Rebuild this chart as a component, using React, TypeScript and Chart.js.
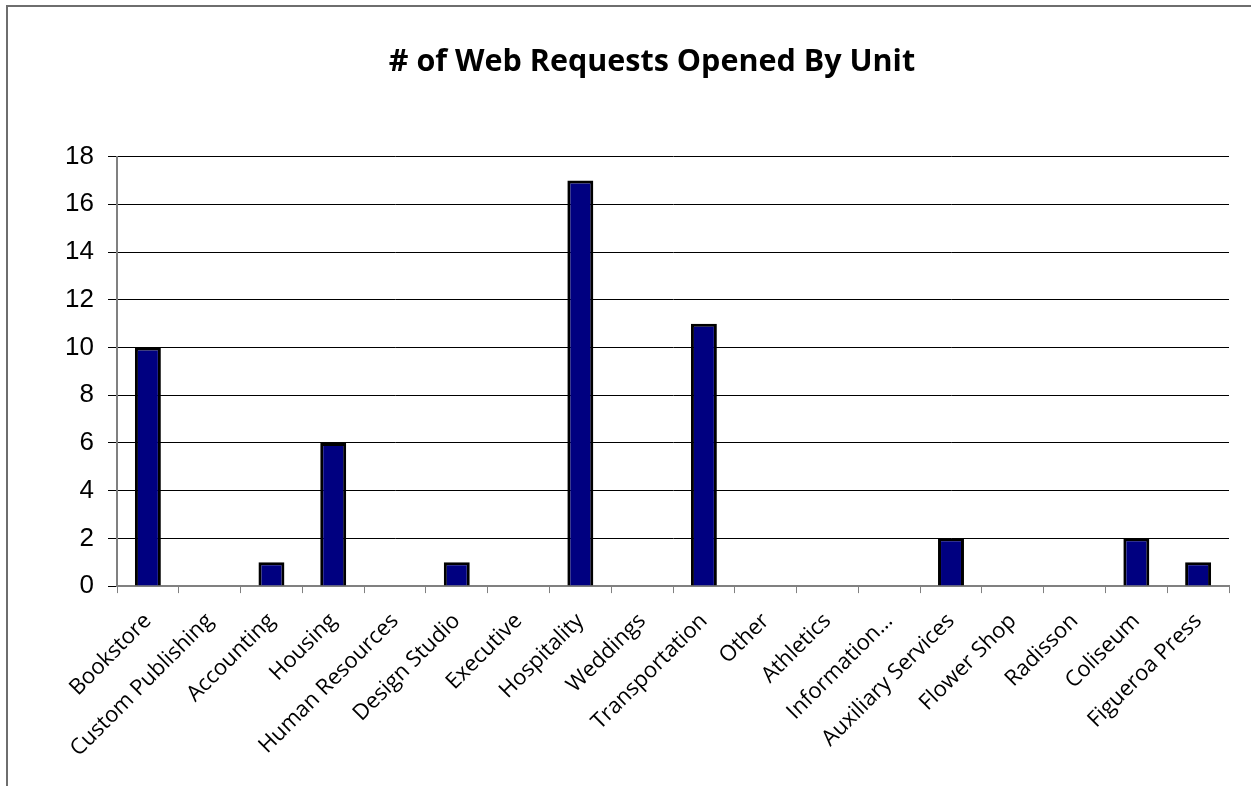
import React, { useEffect, useRef } from "react";
import { Chart, registerables } from "chart.js";

Chart.register(...registerables);

const categories = [
  "Bookstore",
  "Custom Publishing",
  "Accounting",
  "Housing",
  "Human Resources",
  "Design Studio",
  "Executive",
  "Hospitality",
  "Weddings",
  "Transportation",
  "Other",
  "Athletics",
  "Information…",
  "Auxiliary Services",
  "Flower Shop",
  "Radisson",
  "Coliseum",
  "Figueroa Press",
];
const requests = [10, 0, 1, 6, 0, 1, 0, 17, 0, 11, 0, 0, 0, 2, 0, 0, 2, 1];
const yTicks = [0, 2, 4, 6, 8, 10, 12, 14, 16, 18];
const titleText = "# of Web Requests Opened By Unit";

const framePlugin = {
  id: "frame",
  beforeDraw(chart: any) {
    const ctx = chart.ctx;
    ctx.save();
    ctx.fillStyle = "#fff";
    ctx.fillRect(0, 0, chart.width, chart.height);
    ctx.strokeStyle = "#6e6e6e";
    ctx.lineWidth = 2;
    ctx.beginPath();
    ctx.moveTo(7, chart.height);
    ctx.lineTo(7, 6);
    ctx.lineTo(chart.width, 6);
    ctx.stroke();
    ctx.restore();
  },
};

export default function App() {
  const ref = useRef<HTMLCanvasElement>(null);
  useEffect(() => {
    document.body.style.margin = "0";
    const chart = new Chart(ref.current!, {
      type: "bar",
      data: {
        labels: categories,
        datasets: [
          {
            data: requests,
            backgroundColor: "#000080",
            borderColor: "#000000",
            borderWidth: 3,
            barPercentage: 0.42,
            categoryPercentage: 1,
          },
        ],
      },
      plugins: [framePlugin],
      options: {
        animation: false,
        responsive: false,
        layout: { padding: { left: 75, right: 22, top: 0, bottom: 9 } },
        plugins: {
          legend: { display: false },
          tooltip: { enabled: false },
          title: {
            display: true,
            text: titleText,
            color: "#000",
            font: { family: "Open Sans", size: 30.5, weight: "bold" },
            padding: { top: 44, bottom: 76 },
          },
        },
        scales: {
          x: {
            grid: {
              display: true,
              drawOnChartArea: false,
              drawTicks: true,
              tickLength: 7,
              color: "#808080",
              offset: true,
            },
            border: { color: "#808080", width: 2 },
            ticks: {
              color: "#000",
              font: { family: "Open Sans", size: 22 },
              maxRotation: 45,
              minRotation: 45,
              autoSkip: false,
              padding: 15,
            },
          },
          y: {
            min: 0,
            max: 18,
            afterBuildTicks: (axis: any) => {
              axis.ticks = yTicks.map((v) => ({ value: v }));
            },
            afterFit: (axis: any) => {
              axis.width = 42;
              axis._computeLabelArea = () => undefined;
            },
            grid: {
              color: "#000",
              lineWidth: 1,
              tickLength: 9,
            },
            border: { color: "#808080", width: 2 },
            ticks: {
              color: "#000",
              font: { family: "Liberation Sans", size: 26 },
              padding: 14,
            },
          },
        },
      },
    });
    return () => chart.destroy();
  }, []);
  return <canvas ref={ref} width={1251} height={786} style={{ display: "block" }} />;
}
